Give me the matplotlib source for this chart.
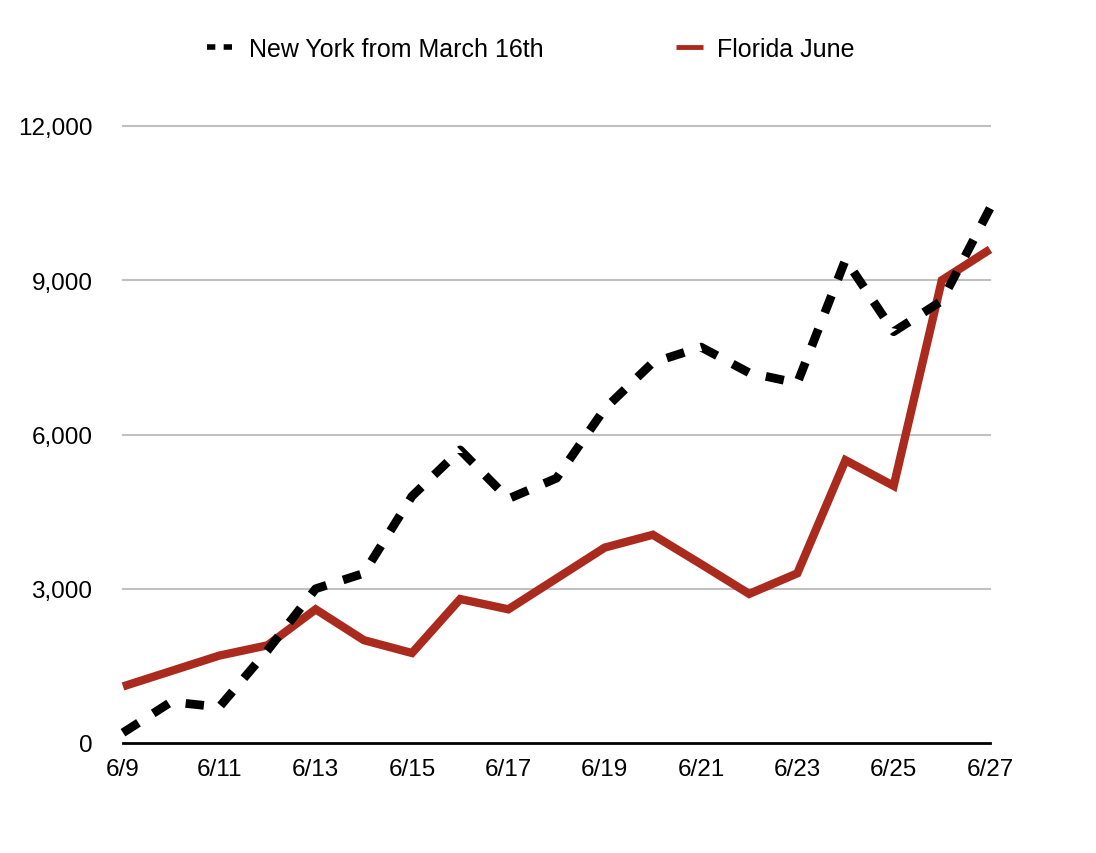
import matplotlib
matplotlib.use("Agg")
import matplotlib.pyplot as plt
from matplotlib.lines import Line2D

dates = ["6/9", "6/10", "6/11", "6/12", "6/13", "6/14", "6/15", "6/16", "6/17", "6/18",
         "6/19", "6/20", "6/21", "6/22", "6/23", "6/24", "6/25", "6/26", "6/27"]
new_york = [200, 800, 700, 1800, 3000, 3300, 4800, 5700, 4750, 5150,
            6500, 7400, 7700, 7200, 7000, 9400, 8000, 8600, 10400]
florida = [1100, 1400, 1700, 1900, 2600, 2000, 1750, 2800, 2600, 3200,
           3800, 4050, 3480, 2900, 3300, 5500, 5000, 9000, 9600]
y_ticks = [0, 3000, 6000, 9000, 12000]
y_labels = ["0", "3,000", "6,000", "9,000", "12,000"]

plt.rcParams['font.family'] = ['Liberation Sans', 'DejaVu Sans']

fig = plt.figure(figsize=(10.96, 8.54), dpi=100)
ax = fig.add_axes([123/1096, 1 - 744/854, (990 - 123)/1096, (744 - 127)/854])

x = list(range(len(dates)))
red = '#AA2B1D'

for yv in y_ticks[1:]:
    ax.axhline(yv, color='#c0c0c0', lw=1.5, zorder=1, clip_on=False)

ax.plot(x, new_york, color='black', lw=6.3, linestyle=(0, (2.1, 2.0)),
        dash_capstyle='butt', solid_joinstyle='miter', clip_on=False, zorder=3,
        label='New York from March 16th')
ax.plot(x, florida, color=red, lw=6.0, solid_capstyle='butt',
        solid_joinstyle='miter', clip_on=False, zorder=2, label='Florida June')

ax.set_xlim(0, len(dates) - 1)
ax.set_ylim(0, 12000)
ax.set_yticks(y_ticks)
ax.set_yticklabels(y_labels)
ax.set_xticks(x[::2])
ax.set_xticklabels(dates[::2])
ax.tick_params(axis='both', length=0, labelsize=17.5)
ax.tick_params(axis='y', pad=22)
ax.tick_params(axis='x', pad=11)

for s in ['left', 'right', 'top']:
    ax.spines[s].set_visible(False)
ax.spines['bottom'].set_linewidth(2)
ax.spines['bottom'].set_color('black')
ax.spines['bottom'].set_zorder(4)

h1 = Line2D([], [], color='black', lw=4, linestyle=(0, (1.5, 1.5)), dash_capstyle='butt')
h2 = Line2D([], [], color=red, lw=3.5, solid_capstyle='butt')
fig.legend([h1, h2], ['New York from March 16th', 'Florida June'],
           loc='center', bbox_to_anchor=(531/1096, 1 - 50/854), ncol=2, frameon=False,
           fontsize=18, handlelength=1.1, handletextpad=0.55, columnspacing=5.3)

fig.savefig('out.png', dpi=100)
